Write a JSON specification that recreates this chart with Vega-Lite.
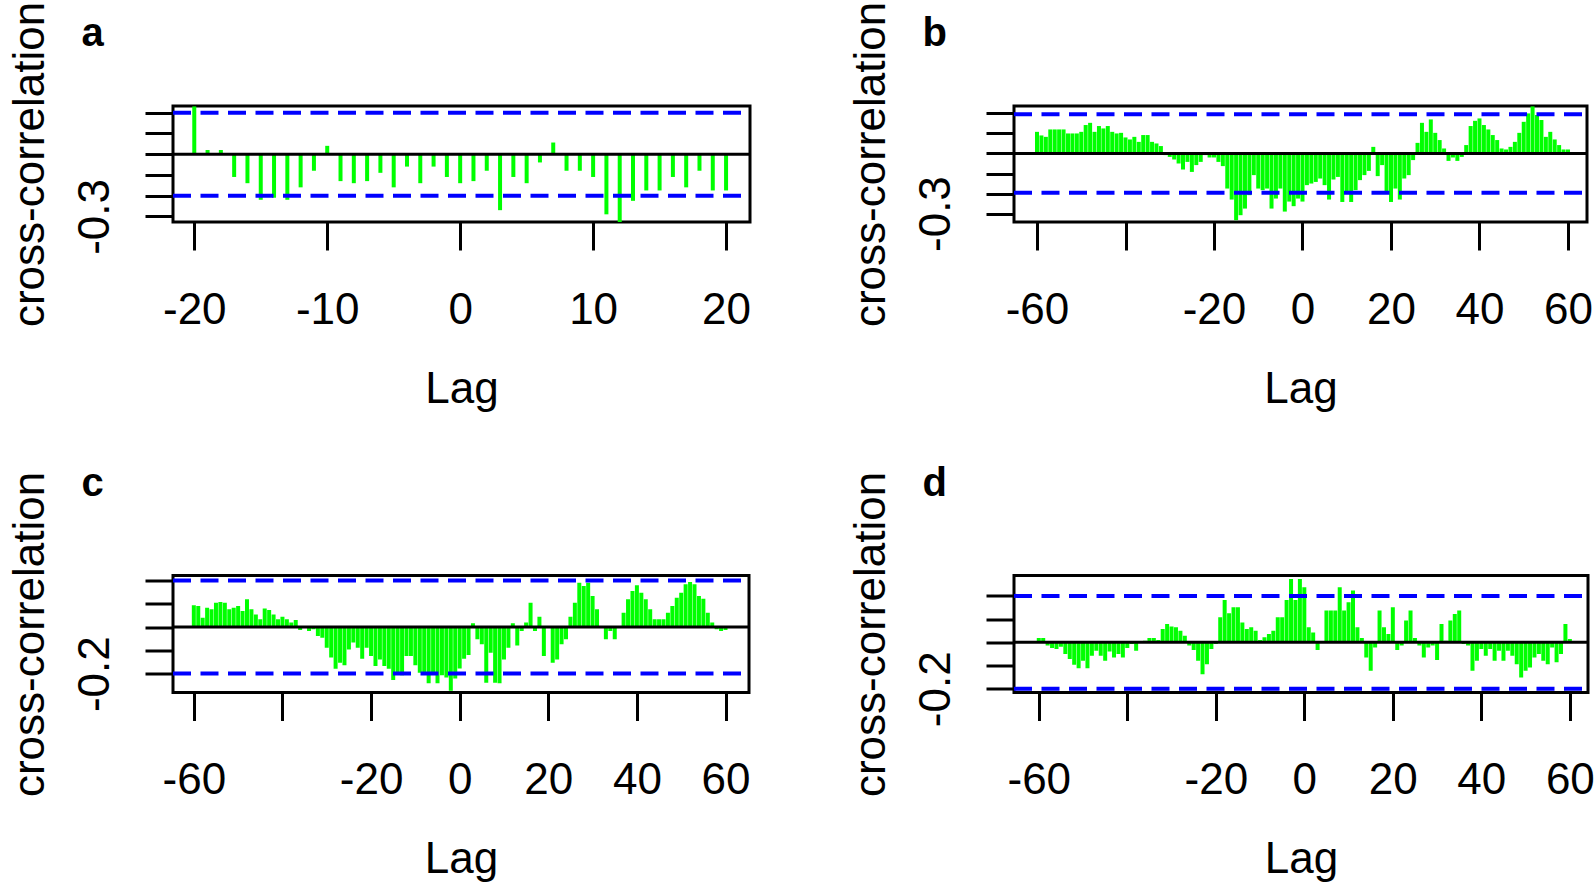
{
  "$schema": "https://vega.github.io/schema/vega-lite/v6.json",
  "autosize": {"type": "none"},
  "padding": {"left": 173, "top": 106, "right": 1421, "bottom": 779},
  "background": "white",
  "columns": 2,
  "bounds": "flush",
  "spacing": {"row": 353.5, "column": 264},
  "concat": [
    {
      "width": 577, "height": 116,
      "layer": [
        {
          "data": {"values": [
            {"lag": -20, "r": 0.23}, {"lag": -19, "r": 0.02}, {"lag": -18, "r": 0.02}, {"lag": -17, "r": -0.11},
            {"lag": -16, "r": -0.14}, {"lag": -15, "r": -0.22}, {"lag": -14, "r": -0.21}, {"lag": -13, "r": -0.22},
            {"lag": -12, "r": -0.16}, {"lag": -11, "r": -0.08}, {"lag": -10, "r": 0.04}, {"lag": -9, "r": -0.13},
            {"lag": -8, "r": -0.14}, {"lag": -7, "r": -0.13}, {"lag": -6, "r": -0.09}, {"lag": -5, "r": -0.16},
            {"lag": -4, "r": -0.06}, {"lag": -3, "r": -0.14}, {"lag": -2, "r": -0.06}, {"lag": -1, "r": -0.11},
            {"lag": 0, "r": -0.14}, {"lag": 1, "r": -0.13}, {"lag": 2, "r": -0.08}, {"lag": 3, "r": -0.27},
            {"lag": 4, "r": -0.11}, {"lag": 5, "r": -0.14}, {"lag": 6, "r": -0.04}, {"lag": 7, "r": 0.056},
            {"lag": 8, "r": -0.08}, {"lag": 9, "r": -0.08}, {"lag": 10, "r": -0.11}, {"lag": 11, "r": -0.29},
            {"lag": 12, "r": -0.33}, {"lag": 13, "r": -0.225}, {"lag": 14, "r": -0.175}, {"lag": 15, "r": -0.175},
            {"lag": 16, "r": -0.11}, {"lag": 17, "r": -0.16}, {"lag": 18, "r": -0.08}, {"lag": 19, "r": -0.175},
            {"lag": 20, "r": -0.175}
          ]},
          "mark": {"type": "rule", "stroke": "#00FF00", "strokeWidth": 4, "clip": true},
          "encoding": {
            "x": {"field": "lag", "type": "quantitative", "scale": {"domain": [-21.6, 21.8], "nice": false, "zero": false},
                  "axis": {"orient": "bottom", "values": [-20, -10, 0, 10, 20], "title": "Lag",
                           "labelExpr": "(datum.value < 0 ? '-' : '') + abs(datum.value)"}},
            "y": {"field": "r", "type": "quantitative", "scale": {"domain": [-0.327, 0.232], "nice": false, "zero": false},
                  "axis": {"values": [-0.3, -0.2, -0.1, 0, 0.1, 0.2], "title": "cross-correlation",
                           "labelExpr": "abs(datum.value + 0.3) < 1e-6 ? '-0.3' : ''"}},
            "y2": {"datum": 0}
          }
        },
        {
          "data": {"values": [{"z": 0}]},
          "mark": {"type": "rule", "stroke": "black", "strokeWidth": 3},
          "encoding": {"y": {"field": "z", "type": "quantitative", "axis": null}}
        },
        {
          "data": {"values": [{"ci": 0.2}, {"ci": -0.2}]},
          "mark": {"type": "rule", "stroke": "#0000FF", "strokeWidth": 4, "strokeDash": [18, 9.5]},
          "encoding": {
            "y": {"field": "ci", "type": "quantitative", "axis": null},
            "x": {"datum": -21.6, "type": "quantitative",
                  "axis": {"orient": "top", "title": "a", "titleX": -92, "titleY": -61, "titleAlign": "left", "titleAngle": 0,
                           "titleBaseline": "alphabetic", "titleFontWeight": "bold", "titleFontSize": 40,
                           "ticks": false, "labels": false, "domain": false}},
            "x2": {"datum": 21.8}
          }
        }
      ],
      "resolve": {"axis": {"x": "independent", "y": "independent"}}
    },
    {
      "width": 573, "height": 116,
      "layer": [
        {
          "data": {"values": [
            {"lag": -60, "r": 0.108}, {"lag": -59, "r": 0.09}, {"lag": -58, "r": 0.083}, {"lag": -57, "r": 0.12},
            {"lag": -56, "r": 0.12}, {"lag": -55, "r": 0.12}, {"lag": -54, "r": 0.12}, {"lag": -53, "r": 0.1},
            {"lag": -52, "r": 0.1}, {"lag": -51, "r": 0.1}, {"lag": -50, "r": 0.108}, {"lag": -49, "r": 0.142},
            {"lag": -48, "r": 0.153}, {"lag": -47, "r": 0.108}, {"lag": -46, "r": 0.137}, {"lag": -45, "r": 0.125},
            {"lag": -44, "r": 0.137}, {"lag": -43, "r": 0.108}, {"lag": -42, "r": 0.1}, {"lag": -41, "r": 0.103},
            {"lag": -40, "r": 0.08}, {"lag": -39, "r": 0.07}, {"lag": -38, "r": 0.083}, {"lag": -37, "r": 0.058},
            {"lag": -36, "r": 0.092}, {"lag": -35, "r": 0.092}, {"lag": -34, "r": 0.058}, {"lag": -33, "r": 0.05},
            {"lag": -32, "r": 0.037}, {"lag": -31, "r": -0.008}, {"lag": -30, "r": -0.017}, {"lag": -29, "r": -0.03},
            {"lag": -28, "r": -0.05}, {"lag": -27, "r": -0.08}, {"lag": -26, "r": -0.042}, {"lag": -25, "r": -0.092},
            {"lag": -24, "r": -0.058}, {"lag": -23, "r": -0.042}, {"lag": -22, "r": -0.008}, {"lag": -21, "r": -0.02},
            {"lag": -20, "r": -0.02}, {"lag": -19, "r": -0.042}, {"lag": -18, "r": -0.063}, {"lag": -17, "r": -0.175},
            {"lag": -16, "r": -0.23}, {"lag": -15, "r": -0.333}, {"lag": -14, "r": -0.308}, {"lag": -13, "r": -0.275},
            {"lag": -12, "r": -0.208}, {"lag": -11, "r": -0.108}, {"lag": -10, "r": -0.175}, {"lag": -9, "r": -0.183},
            {"lag": -8, "r": -0.175}, {"lag": -7, "r": -0.275}, {"lag": -6, "r": -0.225}, {"lag": -5, "r": -0.175},
            {"lag": -4, "r": -0.29}, {"lag": -3, "r": -0.24}, {"lag": -2, "r": -0.263}, {"lag": -1, "r": -0.225},
            {"lag": 0, "r": -0.24}, {"lag": 1, "r": -0.158}, {"lag": 2, "r": -0.15}, {"lag": 3, "r": -0.142},
            {"lag": 4, "r": -0.125}, {"lag": 5, "r": -0.158}, {"lag": 6, "r": -0.23}, {"lag": 7, "r": -0.13},
            {"lag": 8, "r": -0.117}, {"lag": 9, "r": -0.242}, {"lag": 10, "r": -0.197}, {"lag": 11, "r": -0.242},
            {"lag": 12, "r": -0.183}, {"lag": 13, "r": -0.133}, {"lag": 14, "r": -0.108}, {"lag": 15, "r": -0.087},
            {"lag": 16, "r": 0.033}, {"lag": 17, "r": -0.113}, {"lag": 18, "r": -0.058}, {"lag": 19, "r": -0.192},
            {"lag": 20, "r": -0.242}, {"lag": 21, "r": -0.175}, {"lag": 22, "r": -0.23}, {"lag": 23, "r": -0.125},
            {"lag": 24, "r": -0.108}, {"lag": 25, "r": -0.033}, {"lag": 26, "r": 0.053}, {"lag": 27, "r": 0.153},
            {"lag": 28, "r": 0.108}, {"lag": 29, "r": 0.17}, {"lag": 30, "r": 0.103}, {"lag": 31, "r": 0.067},
            {"lag": 32, "r": 0.025}, {"lag": 33, "r": -0.037}, {"lag": 34, "r": -0.02}, {"lag": 35, "r": -0.037},
            {"lag": 36, "r": -0.017}, {"lag": 37, "r": 0.042}, {"lag": 38, "r": 0.137}, {"lag": 39, "r": 0.163},
            {"lag": 40, "r": 0.175}, {"lag": 41, "r": 0.142}, {"lag": 42, "r": 0.12}, {"lag": 43, "r": 0.092},
            {"lag": 44, "r": 0.067}, {"lag": 45, "r": 0.025}, {"lag": 46, "r": 0.02}, {"lag": 47, "r": 0.033},
            {"lag": 48, "r": 0.058}, {"lag": 49, "r": 0.103}, {"lag": 50, "r": 0.158}, {"lag": 51, "r": 0.2},
            {"lag": 52, "r": 0.235}, {"lag": 53, "r": 0.192}, {"lag": 54, "r": 0.167}, {"lag": 55, "r": 0.083},
            {"lag": 56, "r": 0.108}, {"lag": 57, "r": 0.07}, {"lag": 58, "r": 0.042}, {"lag": 59, "r": 0.02},
            {"lag": 60, "r": 0.02}
          ]},
          "mark": {"type": "rule", "stroke": "#00FF00", "strokeWidth": 4, "clip": true},
          "encoding": {
            "x": {"field": "lag", "type": "quantitative", "scale": {"domain": [-65.2, 64.3], "nice": false, "zero": false},
                  "axis": {"orient": "bottom", "values": [-60, -40, -20, 0, 20, 40, 60], "title": "Lag",
                           "labelExpr": "datum.value == -40 ? '' : (datum.value < 0 ? '-' : '') + abs(datum.value)"}},
            "y": {"field": "r", "type": "quantitative", "scale": {"domain": [-0.342, 0.237], "nice": false, "zero": false},
                  "axis": {"values": [-0.3, -0.2, -0.1, 0, 0.1, 0.2], "title": "cross-correlation",
                           "labelExpr": "abs(datum.value + 0.3) < 1e-6 ? '-0.3' : ''"}},
            "y2": {"datum": 0}
          }
        },
        {
          "data": {"values": [{"z": 0}]},
          "mark": {"type": "rule", "stroke": "black", "strokeWidth": 3},
          "encoding": {"y": {"field": "z", "type": "quantitative", "axis": null}}
        },
        {
          "data": {"values": [{"ci": 0.196}, {"ci": -0.196}]},
          "mark": {"type": "rule", "stroke": "#0000FF", "strokeWidth": 4, "strokeDash": [18, 9.5]},
          "encoding": {
            "y": {"field": "ci", "type": "quantitative", "axis": null},
            "x": {"datum": -65.2, "type": "quantitative",
                  "axis": {"orient": "top", "title": "b", "titleX": -92, "titleY": -61, "titleAlign": "left", "titleAngle": 0,
                           "titleBaseline": "alphabetic", "titleFontWeight": "bold", "titleFontSize": 40,
                           "ticks": false, "labels": false, "domain": false}},
            "x2": {"datum": 64.3}
          }
        }
      ],
      "resolve": {"axis": {"x": "independent", "y": "independent"}}
    },
    {
      "width": 576, "height": 117,
      "layer": [
        {
          "data": {"values": [
            {"lag": -60, "r": 0.093}, {"lag": -59, "r": 0.09}, {"lag": -58, "r": 0.04}, {"lag": -57, "r": 0.083},
            {"lag": -56, "r": 0.076}, {"lag": -55, "r": 0.104}, {"lag": -54, "r": 0.107}, {"lag": -53, "r": 0.104},
            {"lag": -52, "r": 0.076}, {"lag": -51, "r": 0.083}, {"lag": -50, "r": 0.09}, {"lag": -49, "r": 0.069},
            {"lag": -48, "r": 0.119}, {"lag": -47, "r": 0.076}, {"lag": -46, "r": 0.054}, {"lag": -45, "r": 0.033},
            {"lag": -44, "r": 0.079}, {"lag": -43, "r": 0.073}, {"lag": -42, "r": 0.054}, {"lag": -41, "r": 0.033},
            {"lag": -40, "r": 0.044}, {"lag": -39, "r": 0.033}, {"lag": -38, "r": 0.019}, {"lag": -37, "r": 0.03},
            {"lag": -36, "r": -0.013}, {"lag": -35, "r": -0.003}, {"lag": -34, "r": -0.017}, {"lag": -33, "r": -0.01},
            {"lag": -32, "r": -0.039}, {"lag": -31, "r": -0.046}, {"lag": -30, "r": -0.089}, {"lag": -29, "r": -0.131},
            {"lag": -28, "r": -0.179}, {"lag": -27, "r": -0.153}, {"lag": -26, "r": -0.164}, {"lag": -25, "r": -0.096},
            {"lag": -24, "r": -0.067}, {"lag": -23, "r": -0.089}, {"lag": -22, "r": -0.136}, {"lag": -21, "r": -0.089},
            {"lag": -20, "r": -0.124}, {"lag": -19, "r": -0.167}, {"lag": -18, "r": -0.139}, {"lag": -17, "r": -0.167},
            {"lag": -16, "r": -0.179}, {"lag": -15, "r": -0.227}, {"lag": -14, "r": -0.196}, {"lag": -13, "r": -0.207},
            {"lag": -12, "r": -0.124}, {"lag": -11, "r": -0.124}, {"lag": -10, "r": -0.164}, {"lag": -9, "r": -0.196},
            {"lag": -8, "r": -0.203}, {"lag": -7, "r": -0.241}, {"lag": -6, "r": -0.199}, {"lag": -5, "r": -0.241},
            {"lag": -4, "r": -0.207}, {"lag": -3, "r": -0.217}, {"lag": -2, "r": -0.274}, {"lag": -1, "r": -0.221},
            {"lag": 0, "r": -0.178}, {"lag": 1, "r": -0.136}, {"lag": 2, "r": -0.12}, {"lag": 3, "r": 0.016},
            {"lag": 4, "r": -0.053}, {"lag": 5, "r": -0.074}, {"lag": 6, "r": -0.239}, {"lag": 7, "r": -0.11},
            {"lag": 8, "r": -0.239}, {"lag": 9, "r": -0.241}, {"lag": 10, "r": -0.139}, {"lag": 11, "r": -0.089},
            {"lag": 12, "r": 0.016}, {"lag": 13, "r": -0.079}, {"lag": 14, "r": -0.017}, {"lag": 15, "r": 0.019},
            {"lag": 16, "r": 0.104}, {"lag": 17, "r": -0.017}, {"lag": 18, "r": 0.044}, {"lag": 19, "r": -0.124},
            {"lag": 20, "r": -0.003}, {"lag": 21, "r": -0.153}, {"lag": 22, "r": -0.139}, {"lag": 23, "r": -0.074},
            {"lag": 24, "r": -0.053}, {"lag": 25, "r": 0.044}, {"lag": 26, "r": 0.104}, {"lag": 27, "r": 0.19},
            {"lag": 28, "r": 0.176}, {"lag": 29, "r": 0.19}, {"lag": 30, "r": 0.133}, {"lag": 31, "r": 0.076},
            {"lag": 32, "r": -0.003}, {"lag": 33, "r": -0.053}, {"lag": 34, "r": -0.017}, {"lag": 35, "r": -0.053},
            {"lag": 36, "r": -0.003}, {"lag": 37, "r": 0.061}, {"lag": 38, "r": 0.119}, {"lag": 39, "r": 0.154},
            {"lag": 40, "r": 0.179}, {"lag": 41, "r": 0.147}, {"lag": 42, "r": 0.119}, {"lag": 43, "r": 0.076},
            {"lag": 44, "r": 0.033}, {"lag": 45, "r": 0.033}, {"lag": 46, "r": 0.033}, {"lag": 47, "r": 0.061},
            {"lag": 48, "r": 0.09}, {"lag": 49, "r": 0.126}, {"lag": 50, "r": 0.147}, {"lag": 51, "r": 0.183},
            {"lag": 52, "r": 0.193}, {"lag": 53, "r": 0.183}, {"lag": 54, "r": 0.133}, {"lag": 55, "r": 0.121},
            {"lag": 56, "r": 0.061}, {"lag": 57, "r": 0.019}, {"lag": 58, "r": -0.01}, {"lag": 59, "r": -0.017},
            {"lag": 60, "r": -0.013}
          ]},
          "mark": {"type": "rule", "stroke": "#00FF00", "strokeWidth": 4, "clip": true},
          "encoding": {
            "x": {"field": "lag", "type": "quantitative", "scale": {"domain": [-64.7, 65.3], "nice": false, "zero": false},
                  "axis": {"orient": "bottom", "values": [-60, -40, -20, 0, 20, 40, 60], "title": "Lag",
                           "labelExpr": "datum.value == -40 ? '' : (datum.value < 0 ? '-' : '') + abs(datum.value)"}},
            "y": {"field": "r", "type": "quantitative", "scale": {"domain": [-0.281, 0.221], "nice": false, "zero": false},
                  "axis": {"values": [-0.2, -0.1, 0, 0.1, 0.2], "title": "cross-correlation",
                           "labelExpr": "abs(datum.value + 0.2) < 1e-6 ? '-0.2' : ''"}},
            "y2": {"datum": 0}
          }
        },
        {
          "data": {"values": [{"z": 0}]},
          "mark": {"type": "rule", "stroke": "black", "strokeWidth": 3},
          "encoding": {"y": {"field": "z", "type": "quantitative", "axis": null}}
        },
        {
          "data": {"values": [{"ci": 0.2}, {"ci": -0.2}]},
          "mark": {"type": "rule", "stroke": "#0000FF", "strokeWidth": 4, "strokeDash": [18, 9.5]},
          "encoding": {
            "y": {"field": "ci", "type": "quantitative", "axis": null},
            "x": {"datum": -64.7, "type": "quantitative",
                  "axis": {"orient": "top", "title": "c", "titleX": -92, "titleY": -80, "titleAlign": "left", "titleAngle": 0,
                           "titleBaseline": "alphabetic", "titleFontWeight": "bold", "titleFontSize": 40,
                           "ticks": false, "labels": false, "domain": false}},
            "x2": {"datum": 65.3}
          }
        }
      ],
      "resolve": {"axis": {"x": "independent", "y": "independent"}}
    },
    {
      "width": 574, "height": 117,
      "layer": [
        {
          "data": {"values": [
            {"lag": -60, "r": 0.019}, {"lag": -59, "r": 0.019}, {"lag": -58, "r": -0.014}, {"lag": -57, "r": -0.024},
            {"lag": -56, "r": -0.029}, {"lag": -55, "r": -0.019}, {"lag": -54, "r": -0.05}, {"lag": -53, "r": -0.072},
            {"lag": -52, "r": -0.096}, {"lag": -51, "r": -0.111}, {"lag": -50, "r": -0.079}, {"lag": -49, "r": -0.111},
            {"lag": -48, "r": -0.058}, {"lag": -47, "r": -0.036}, {"lag": -46, "r": -0.058}, {"lag": -45, "r": -0.079},
            {"lag": -44, "r": -0.039}, {"lag": -43, "r": -0.065}, {"lag": -42, "r": -0.05}, {"lag": -41, "r": -0.065},
            {"lag": -40, "r": -0.024}, {"lag": -39, "r": -0.007}, {"lag": -38, "r": -0.036}, {"lag": -37, "r": 0.003},
            {"lag": -36, "r": 0.007}, {"lag": -35, "r": 0.019}, {"lag": -34, "r": 0.019}, {"lag": -33, "r": 0.01},
            {"lag": -32, "r": 0.058}, {"lag": -31, "r": 0.079}, {"lag": -30, "r": 0.068}, {"lag": -29, "r": 0.065},
            {"lag": -28, "r": 0.05}, {"lag": -27, "r": 0.029}, {"lag": -26, "r": -0.014}, {"lag": -25, "r": -0.033},
            {"lag": -24, "r": -0.079}, {"lag": -23, "r": -0.137}, {"lag": -22, "r": -0.094}, {"lag": -21, "r": -0.029},
            {"lag": -20, "r": -0.007}, {"lag": -19, "r": 0.108}, {"lag": -18, "r": 0.183}, {"lag": -17, "r": 0.125},
            {"lag": -16, "r": 0.151}, {"lag": -15, "r": 0.151}, {"lag": -14, "r": 0.086}, {"lag": -13, "r": 0.058},
            {"lag": -12, "r": 0.065}, {"lag": -11, "r": 0.05}, {"lag": -10, "r": 0.01}, {"lag": -9, "r": 0.022},
            {"lag": -8, "r": 0.036}, {"lag": -7, "r": 0.05}, {"lag": -6, "r": 0.108}, {"lag": -5, "r": 0.108},
            {"lag": -4, "r": 0.183}, {"lag": -3, "r": 0.273}, {"lag": -2, "r": 0.183}, {"lag": -1, "r": 0.273},
            {"lag": 0, "r": 0.237}, {"lag": 1, "r": 0.065}, {"lag": 2, "r": 0.043}, {"lag": 3, "r": -0.033},
            {"lag": 4, "r": 0.005}, {"lag": 5, "r": 0.137}, {"lag": 6, "r": 0.137}, {"lag": 7, "r": 0.137},
            {"lag": 8, "r": 0.237}, {"lag": 9, "r": 0.137}, {"lag": 10, "r": 0.173}, {"lag": 11, "r": 0.223},
            {"lag": 12, "r": 0.065}, {"lag": 13, "r": 0.019}, {"lag": 14, "r": -0.065}, {"lag": 15, "r": -0.122},
            {"lag": 16, "r": -0.022}, {"lag": 17, "r": 0.137}, {"lag": 18, "r": 0.065}, {"lag": 19, "r": 0.036},
            {"lag": 20, "r": 0.151}, {"lag": 21, "r": -0.033}, {"lag": 22, "r": -0.014}, {"lag": 23, "r": 0.094},
            {"lag": 24, "r": 0.137}, {"lag": 25, "r": 0.019}, {"lag": 26, "r": -0.014}, {"lag": 27, "r": -0.065},
            {"lag": 28, "r": -0.022}, {"lag": 29, "r": -0.014}, {"lag": 30, "r": -0.076}, {"lag": 31, "r": 0.079},
            {"lag": 32, "r": 0.007}, {"lag": 33, "r": 0.094}, {"lag": 34, "r": 0.122}, {"lag": 35, "r": 0.137},
            {"lag": 36, "r": -0.007}, {"lag": 37, "r": -0.014}, {"lag": 38, "r": -0.122}, {"lag": 39, "r": -0.079},
            {"lag": 40, "r": -0.029}, {"lag": 41, "r": -0.058}, {"lag": 42, "r": -0.029}, {"lag": 43, "r": -0.079},
            {"lag": 44, "r": -0.036}, {"lag": 45, "r": -0.079}, {"lag": 46, "r": -0.036}, {"lag": 47, "r": -0.058},
            {"lag": 48, "r": -0.094}, {"lag": 49, "r": -0.151}, {"lag": 50, "r": -0.122}, {"lag": 51, "r": -0.108},
            {"lag": 52, "r": -0.065}, {"lag": 53, "r": -0.05}, {"lag": 54, "r": -0.079}, {"lag": 55, "r": -0.094},
            {"lag": 56, "r": -0.022}, {"lag": 57, "r": -0.086}, {"lag": 58, "r": -0.05}, {"lag": 59, "r": 0.079},
            {"lag": 60, "r": 0.014}
          ]},
          "mark": {"type": "rule", "stroke": "#00FF00", "strokeWidth": 4, "clip": true},
          "encoding": {
            "x": {"field": "lag", "type": "quantitative", "scale": {"domain": [-65.6, 64.1], "nice": false, "zero": false},
                  "axis": {"orient": "bottom", "values": [-60, -40, -20, 0, 20, 40, 60], "title": "Lag",
                           "labelExpr": "datum.value == -40 ? '' : (datum.value < 0 ? '-' : '') + abs(datum.value)"}},
            "y": {"field": "r", "type": "quantitative", "scale": {"domain": [-0.216, 0.288], "nice": false, "zero": false},
                  "axis": {"values": [-0.2, -0.1, 0, 0.1, 0.2], "title": "cross-correlation",
                           "labelExpr": "abs(datum.value + 0.2) < 1e-6 ? '-0.2' : ''"}},
            "y2": {"datum": 0}
          }
        },
        {
          "data": {"values": [{"z": 0}]},
          "mark": {"type": "rule", "stroke": "black", "strokeWidth": 3},
          "encoding": {"y": {"field": "z", "type": "quantitative", "axis": null}}
        },
        {
          "data": {"values": [{"ci": 0.2}, {"ci": -0.2}]},
          "mark": {"type": "rule", "stroke": "#0000FF", "strokeWidth": 4, "strokeDash": [18, 9.5]},
          "encoding": {
            "y": {"field": "ci", "type": "quantitative", "axis": null},
            "x": {"datum": -65.6, "type": "quantitative",
                  "axis": {"orient": "top", "title": "d", "titleX": -92, "titleY": -80, "titleAlign": "left", "titleAngle": 0,
                           "titleBaseline": "alphabetic", "titleFontWeight": "bold", "titleFontSize": 40,
                           "ticks": false, "labels": false, "domain": false}},
            "x2": {"datum": 64.1}
          }
        }
      ],
      "resolve": {"axis": {"x": "independent", "y": "independent"}}
    }
  ],
  "config": {
    "view": {"stroke": "black", "strokeWidth": 3},
    "axis": {
      "labelFont": "Liberation Sans", "labelFontSize": 44, "labelColor": "black",
      "titleFont": "Liberation Sans", "titleFontSize": 44, "titleColor": "black", "titleFontWeight": "normal",
      "tickColor": "black", "tickWidth": 3, "tickSize": 28, "domain": false, "grid": false,
      "labelOverlap": false, "labelFlush": false, "labelBound": false,
      "labelBaseline": "alphabetic", "titleBaseline": "alphabetic"
    },
    "axisX": {"labelAngle": 0, "labelAlign": "center", "labelPadding": 73, "titleY": 180, "titleAlign": "center"},
    "axisY": {"labelAngle": 270, "labelAlign": "center", "labelPadding": 37, "titleAngle": 270, "titleAlign": "center", "titleX": -130}
  }
}
